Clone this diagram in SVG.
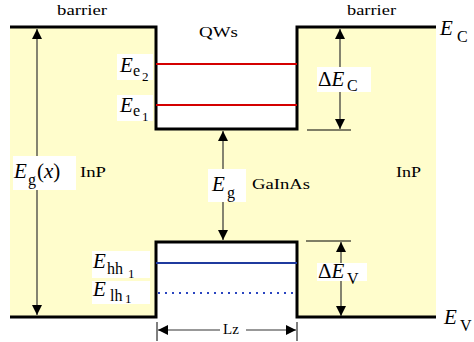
<svg xmlns="http://www.w3.org/2000/svg" width="474" height="342" viewBox="0 0 474 342">
<style>
text{font-family:"Liberation Serif","Times New Roman",serif;fill:#000}
.lbl{font-size:14px}
.it{font-style:italic;font-size:21px}
.sub{font-size:16px}
.ss{font-size:13px}
.band{fill:none;stroke:#000;stroke-width:3}
.arr{stroke:#333;stroke-width:1.2;fill:none}
.tick{stroke:#000;stroke-width:1}
.box{fill:#fff}
</style>
<defs>
<marker id="ah" viewBox="0 0 10 10" refX="10" refY="5" markerWidth="10" markerHeight="14" markerUnits="userSpaceOnUse" orient="auto-start-reverse">
<path d="M0,0 L10,5 L0,10 Z" fill="#000"/>
</marker>
</defs>
<g id="background">
<rect x="10" y="27" width="426" height="290" fill="#FFFDCC"/>
<rect x="156" y="27" width="141" height="102" fill="#fff"/>
<rect x="156" y="242" width="141" height="75" fill="#fff"/>
</g>
<g id="bands">
<path class="band" d="M10,27 H156 V129 H297 V27 H436"/>
<path class="band" d="M10,317 H156 V242 H297 V317 H436"/>
</g>
<g id="levels">
<line x1="156" y1="64" x2="297" y2="64" stroke="#D40000" stroke-width="2"/>
<line x1="156" y1="105" x2="297" y2="105" stroke="#D40000" stroke-width="2"/>
<line x1="156" y1="263" x2="297" y2="263" stroke="#1F3A9E" stroke-width="2"/>
<line x1="158" y1="293" x2="297" y2="293" stroke="#2A45C0" stroke-width="2" stroke-dasharray="2,5"/>
</g>
<g id="connectors">
<line class="arr" x1="37" y1="29" x2="37" y2="315" marker-start="url(#ah)" marker-end="url(#ah)"/>
<line class="arr" x1="223" y1="131" x2="223" y2="240" marker-start="url(#ah)" marker-end="url(#ah)"/>
<line class="arr" x1="340" y1="29" x2="340" y2="129" marker-start="url(#ah)" marker-end="url(#ah)"/>
<line class="tick" x1="307" y1="130" x2="351" y2="130"/>
<line class="arr" x1="341" y1="242" x2="341" y2="316" marker-start="url(#ah)" marker-end="url(#ah)"/>
<line class="tick" x1="306" y1="241" x2="351" y2="241"/>
<line class="tick" x1="157" y1="322" x2="157" y2="341" stroke="#555"/>
<line class="tick" x1="297" y1="322" x2="297" y2="341" stroke="#555"/>
<line class="arr" x1="220" y1="330" x2="158" y2="330" marker-end="url(#ah)"/>
<line class="arr" x1="246" y1="330" x2="296" y2="330" marker-end="url(#ah)"/>
</g>
<g id="text-labels">
<text x="57" y="15" textLength="50" lengthAdjust="spacingAndGlyphs" style="font-size:15px">barrier</text>
<text x="347" y="15" textLength="49" lengthAdjust="spacingAndGlyphs" style="font-size:15px">barrier</text>
<text x="199" y="37" style="font-size:15px" textLength="39" lengthAdjust="spacingAndGlyphs">QWs</text>
<text class="lbl" x="80" y="177" textLength="26" lengthAdjust="spacingAndGlyphs">InP</text>
<text class="lbl" x="396" y="177" textLength="25" lengthAdjust="spacingAndGlyphs">InP</text>
<text class="lbl" x="252" y="189" textLength="58" lengthAdjust="spacingAndGlyphs">GaInAs</text>
<text x="223" y="334" style="font-size:15px">Lz</text>
</g>
<g id="EC"><text class="it" x="440" y="35">E</text><text class="sub" x="457" y="42">C</text></g>
<g id="EV"><text class="it" x="444" y="324">E</text><text class="sub" x="460" y="331">V</text></g>
<g id="Ee2"><rect class="box" x="117" y="54" width="36" height="26"/><text class="it" x="120" y="72">E</text><text class="sub" x="133" y="76">e</text><text class="ss" x="142" y="81">2</text></g>
<g id="Ee1"><rect class="box" x="117" y="95" width="36" height="26"/><text class="it" x="120" y="112">E</text><text class="sub" x="133" y="116">e</text><text class="ss" x="142" y="121">1</text></g>
<g id="Egx"><rect class="box" x="13" y="156" width="63" height="34"/><text class="it" x="14" y="178">E</text><text class="sub" x="28" y="185">g</text><text class="it" x="37" y="178" style="font-style:normal">(<tspan style="font-style:italic">x</tspan>)</text></g>
<g id="Eg"><rect class="box" x="208" y="169" width="38" height="33"/><text class="it" x="212" y="191">E</text><text class="sub" x="227" y="198">g</text></g>
<g id="dEC"><rect class="box" x="317" y="67" width="54" height="25"/><text class="it" x="318" y="86" style="font-style:normal">Δ<tspan style="font-style:italic">E</tspan></text><text class="sub" x="347" y="91">C</text></g>
<g id="dEV"><rect class="box" x="317" y="263" width="50" height="18"/><text class="it" x="318" y="278" style="font-style:normal">Δ<tspan style="font-style:italic">E</tspan></text><text class="sub" x="347" y="284">V</text></g>
<g id="Ehh1"><rect class="box" x="92" y="251" width="58" height="27"/><text class="it" x="93" y="268">E</text><text class="sub" x="107" y="274">hh</text><text class="ss" x="128" y="278">1</text></g>
<g id="Elh1"><rect class="box" x="92" y="281" width="58" height="23"/><text class="it" x="93" y="296">E</text><text class="sub" x="110" y="301">lh</text><text class="ss" x="125" y="303">1</text></g>
</svg>
